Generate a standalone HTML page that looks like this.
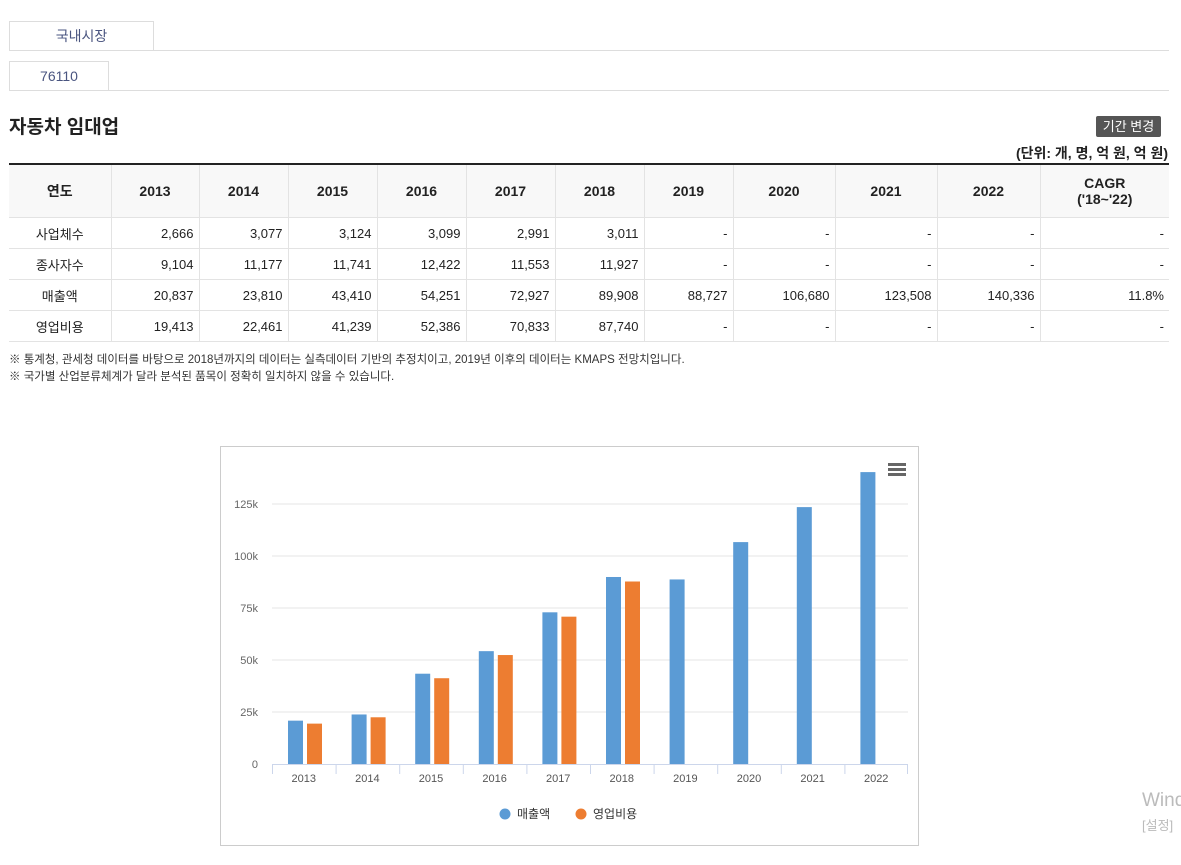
<!DOCTYPE html>
<html><head><meta charset="utf-8">
<style>
body{margin:0;background:#fff;font-family:"Liberation Sans","Noto Sans CJK KR",sans-serif;color:#333;width:1181px;height:865px;overflow:hidden;position:relative}
.tab{position:absolute;left:9px;border:1px solid #ddd;text-align:center;font-size:14px;color:#4a5580;box-sizing:border-box;height:30px;line-height:28px}
.line{position:absolute;left:9px;width:1160px;height:1px;background:#ddd}
table{position:absolute;left:9px;top:163px;width:1160px;border-collapse:collapse;font-size:13px;table-layout:fixed}
th{background:#f8f8f8;height:52px;border-top:2px solid #222;border-left:1px solid #e3e3e3;font-weight:bold;color:#222;font-size:14px;padding:0}
th:first-child,td:first-child{border-left:none}
td{height:30px;border-top:1px solid #e3e3e3;border-left:1px solid #e3e3e3;text-align:right;padding:0 5px;color:#222}
td:first-child{text-align:center}
tr:last-child td{border-bottom:1px solid #e3e3e3}
</style></head><body>
<div class="tab" style="top:21px;width:145px">국내시장</div>
<div class="line" style="top:50px"></div>
<div class="tab" style="top:61px;width:100px">76110</div>
<div class="line" style="top:90px"></div>
<div style="position:absolute;left:9px;top:112px;font-size:19px;font-weight:bold;color:#222">자동차 임대업</div>
<div style="position:absolute;left:1096px;top:116px;width:65px;height:21px;background:#555;color:#fff;font-size:13px;line-height:21px;text-align:center;border-radius:2px">기간 변경</div>
<div style="position:absolute;right:13px;top:143px;font-size:14px;font-weight:bold;color:#222">(단위: 개, 명, 억 원, 억 원)</div>
<table>
<colgroup><col style="width:102px"><col style="width:88px"><col style="width:89px"><col style="width:89px"><col style="width:89px"><col style="width:89px"><col style="width:89px"><col style="width:89px"><col style="width:102px"><col style="width:102px"><col style="width:103px"><col style="width:129px"></colgroup>
<tr><th>연도</th><th>2013</th><th>2014</th><th>2015</th><th>2016</th><th>2017</th><th>2018</th><th>2019</th><th>2020</th><th>2021</th><th>2022</th><th>CAGR<br>('18~'22)</th></tr>
<tr><td>사업체수</td><td>2,666</td><td>3,077</td><td>3,124</td><td>3,099</td><td>2,991</td><td>3,011</td><td>-</td><td>-</td><td>-</td><td>-</td><td>-</td></tr>
<tr><td>종사자수</td><td>9,104</td><td>11,177</td><td>11,741</td><td>12,422</td><td>11,553</td><td>11,927</td><td>-</td><td>-</td><td>-</td><td>-</td><td>-</td></tr>
<tr><td>매출액</td><td>20,837</td><td>23,810</td><td>43,410</td><td>54,251</td><td>72,927</td><td>89,908</td><td>88,727</td><td>106,680</td><td>123,508</td><td>140,336</td><td>11.8%</td></tr>
<tr><td>영업비용</td><td>19,413</td><td>22,461</td><td>41,239</td><td>52,386</td><td>70,833</td><td>87,740</td><td>-</td><td>-</td><td>-</td><td>-</td><td>-</td></tr>
</table>
<div style="position:absolute;left:9px;top:352px;font-size:11.5px;line-height:17px;color:#333">※ 통계청, 관세청 데이터를 바탕으로 2018년까지의 데이터는 실측데이터 기반의 추정치이고, 2019년 이후의 데이터는 KMAPS 전망치입니다.<br>※ 국가별 산업분류체계가 달라 분석된 품목이 정확히 일치하지 않을 수 있습니다.</div>
<svg style="position:absolute;left:220px;top:446px" width="699" height="400">
<rect x="0.5" y="0.5" width="698" height="399" fill="#fff" stroke="#ccc"/>
<g id="grid"></g><g id="bars"></g><g id="xax"></g>
<g fill="#666"><rect x="668" y="17" width="18" height="3"/><rect x="668" y="22" width="18" height="3"/><rect x="668" y="27" width="18" height="3"/></g>
<g font-size="12" fill="#333">
<circle cx="285" cy="368" r="5.5" fill="#5b9bd5"/><text x="297" y="372">매출액</text>
<circle cx="361" cy="368" r="5.5" fill="#ed7d31"/><text x="373" y="372">영업비용</text></g>
</svg>
<div style="position:absolute;left:1142px;top:790px;font-size:19px;color:#bbb">Wind</div>
<div style="position:absolute;left:1142px;top:815px;font-size:13px;color:#bbb">[설정]</div>
<script>
const categories=["2013","2014","2015","2016","2017","2018","2019","2020","2021","2022"];
const sales=[20837,23810,43410,54251,72927,89908,88727,106680,123508,140336];
const costs=[19413,22461,41239,52386,70833,87740,null,null,null,null];
const yTicks=[0,25000,50000,75000,100000,125000];
const yLabels=["0","25k","50k","75k","100k","125k"];
const NS="http://www.w3.org/2000/svg";
const L=52,R=688,Y0=318,PX=52/25000;
const y=v=>Y0-v*PX;const cw=(R-L)/categories.length;
function mk(t,a,p){const e=document.createElementNS(NS,t);for(const k in a)e.setAttribute(k,a[k]);p.appendChild(e);return e;}
const g=document.getElementById('grid'),b=document.getElementById('bars'),xa=document.getElementById('xax');
yTicks.forEach((t,i)=>{
 if(i>0){const l=mk('line',{x1:L,x2:R,y1:y(t),y2:y(t),stroke:'#e6e6e6'},g);
 
 }
 const tx=mk('text',{x:L-14,y:y(t)+4,'text-anchor':'end','font-size':11,fill:'#666'},g);tx.textContent=yLabels[i];
 
 
});
mk('line',{x1:L,x2:R,y1:Y0+0.5,y2:Y0+0.5,stroke:'#ccd6eb'},xa);
categories.forEach((c,i)=>{
 const x0=L+i*cw;
 mk('line',{x1:x0+0.5,x2:x0+0.5,y1:Y0,y2:Y0+10,stroke:'#ccd6eb'},xa);
 const t=mk('text',{x:x0+cw/2,y:Y0+18,'text-anchor':'middle','font-size':11,fill:'#555'},xa);t.textContent=c;
 
 
 const r1=mk('rect',{x:x0+16,y:y(sales[i]),width:15,height:sales[i]*PX,fill:'#5b9bd5'},b);
 
 
 if(costs[i]!=null){const r2=mk('rect',{x:x0+35,y:y(costs[i]),width:15,height:costs[i]*PX,fill:'#ed7d31'},b);
 
 }
});
mk('line',{x1:R-0.5,x2:R-0.5,y1:Y0,y2:Y0+10,stroke:'#ccd6eb'},xa);
</script>
</body></html>
